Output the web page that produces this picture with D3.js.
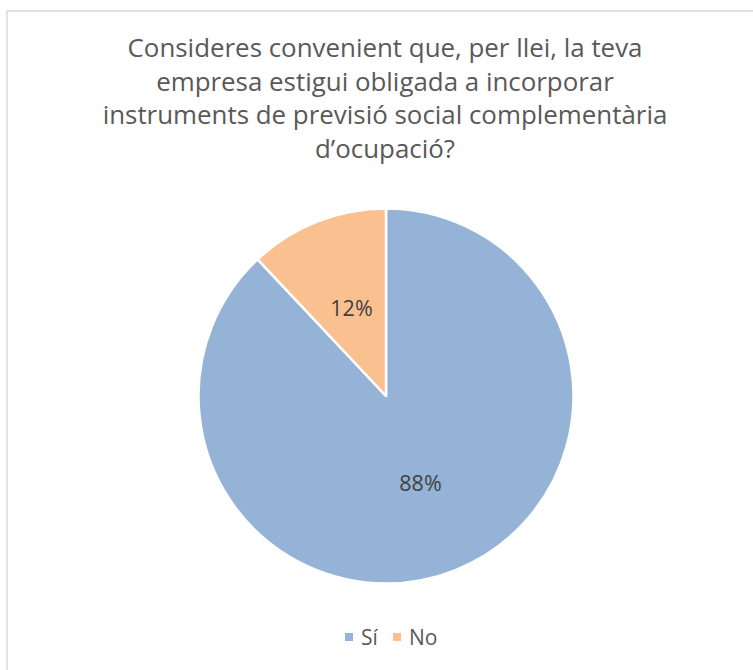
<!DOCTYPE html>
<html>
<head>
<meta charset="utf-8">
<script src="https://cdn.jsdelivr.net/npm/d3@7"></script>
<style>
  html, body { margin: 0; padding: 0; background: #fff; }
  svg { display: block; }
</style>
</head>
<body>
<script>
const titleLines = [
  "Consideres convenient que, per llei, la teva",
  "empresa estigui obligada a incorporar",
  "instruments de previsió social complementària",
  "d’ocupació?"
];
const categories = ["Sí", "No"];
const values = [88, 12];
const labels = ["88%", "12%"];
const colors = ["#95B3D7", "#FAC090"];

const W = 753, H = 670;
const svg = d3.select("body").append("svg").attr("width", W).attr("height", H);
const font = "'Open Sans', Lato, sans-serif";
const textColor = "#595959";

// border
svg.append("rect").attr("x", 7).attr("y", 11).attr("width", 760).attr("height", 680)
  .attr("fill", "#fff").attr("stroke", "#D9D9D9").attr("stroke-width", 1.5);

// title
const title = svg.append("g");
titleLines.forEach((t, i) => {
  title.append("text").attr("x", 385).attr("y", 57 + i * 33.5)
    .attr("text-anchor", "middle").attr("font-family", font).attr("font-size", 25.9)
    .attr("fill", textColor).text(t);
});

// pie
const cx = 386, cy = 396, r = 187.5;
const pie = d3.pie().sort(null).value(d => d.v);
const arc = d3.arc().innerRadius(0).outerRadius(r);
const data = categories.map((c, i) => ({ c, v: values[i], l: labels[i], col: colors[i] }));
const arcs = pie(data);
const g = svg.append("g").attr("transform", `translate(${cx},${cy})`);
g.selectAll("path").data(arcs).join("path")
  .attr("d", arc).attr("fill", d => d.data.col)
  .attr("stroke", "#fff").attr("stroke-width", 2.5).attr("stroke-linejoin", "round");

const labelArc = d3.arc().innerRadius(r * 0.5).outerRadius(r * 0.5);
g.selectAll("text.lbl").data(arcs).join("text").attr("class", "lbl")
  .attr("transform", d => {
    const [x, y] = labelArc.centroid(d);
    return `translate(${x},${y})`;
  })
  .attr("text-anchor", "middle").attr("dy", "0.35em")
  .attr("font-family", font).attr("font-size", 21.5).attr("fill", "#404040")
  .text(d => d.data.l);

// legend
const legend = svg.append("g");
const legX = [345, 393];
data.forEach((d, i) => {
  legend.append("rect").attr("x", legX[i]).attr("y", 633).attr("width", 8).attr("height", 8).attr("fill", d.col);
  legend.append("text").attr("x", legX[i] + 16).attr("y", 645)
    .attr("font-family", font).attr("font-size", 21).attr("fill", textColor).text(d.c);
});
</script>
</body>
</html>
